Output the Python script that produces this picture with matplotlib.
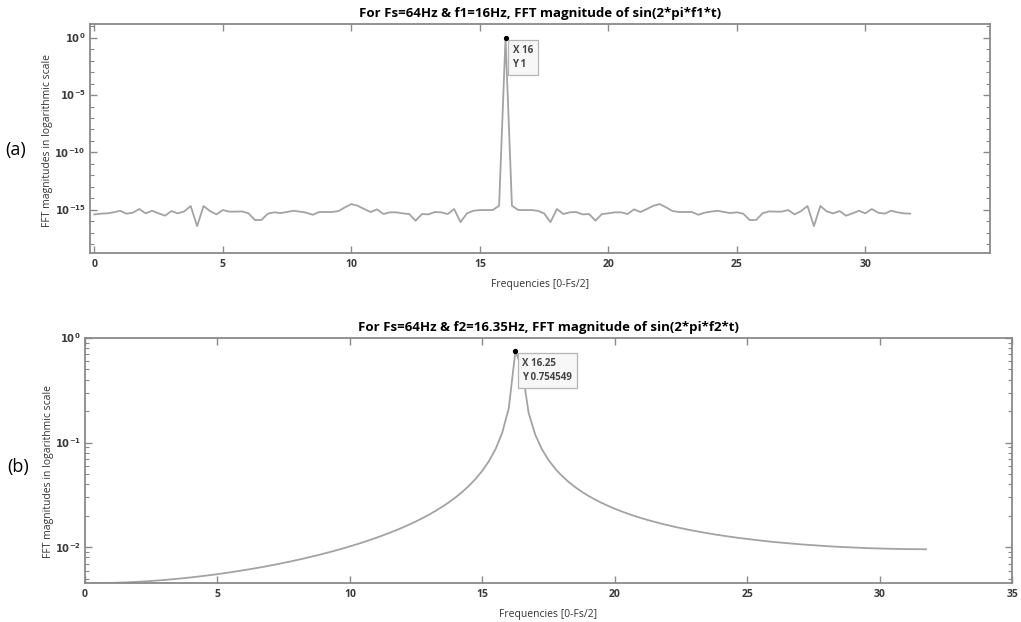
import numpy as np
import matplotlib
matplotlib.use("Agg")
import matplotlib.pyplot as plt
from matplotlib.ticker import FixedLocator, NullFormatter

plt.rcParams['font.family'] = ['Open Sans', 'DejaVu Sans']
plt.rcParams['mathtext.default'] = 'bf'

# ---------------- data ----------------
# frequency bins: Fs=64 Hz, N=256 -> 0.25 Hz spacing, 0 .. 31.75 Hz
freqs = np.arange(0, 32, 0.25)

# (a) FFT magnitude of sin(2*pi*16*t)  (noise floor ~1e-15, peak 1 at 16 Hz)
mag1 = [
    3.9e-16, 4.5e-16, 4.8e-16, 5.9e-16, 8.1e-16, 4.5e-16, 5.5e-16, 1.15e-15, 4.8e-16, 8.1e-16,
    4.8e-16, 3.0e-16, 7.6e-16, 4.8e-16, 7.1e-16, 2.1e-15, 3.7e-17, 2.1e-15, 7.6e-16, 3.9e-16,
    9.3e-16, 6.8e-16, 6.8e-16, 7.1e-16, 4.8e-16, 1.26e-16, 1.26e-16, 4.5e-16, 5.9e-16, 5.1e-16,
    6.3e-16, 8.1e-16, 6.8e-16, 5.5e-16, 3.6e-16, 6.3e-16, 6.3e-16, 6.3e-16, 7.6e-16, 1.6e-15,
    3.1e-15, 2.2e-15, 1.15e-15, 6.3e-16, 1.07e-15, 4.2e-16, 5.9e-16, 5.9e-16, 4.8e-16, 4.2e-16,
    1.1e-16, 4.2e-16, 3.9e-16, 6.3e-16, 5.9e-16, 4.2e-16, 1.15e-15, 8.3e-17, 4.8e-16, 8.1e-16,
    9.3e-16, 9.3e-16, 9.3e-16, 2.2e-15, 1.0, 2.2e-15, 9.3e-16, 9.3e-16, 9.3e-16, 8.1e-16,
    4.8e-16, 8.3e-17, 1.15e-15, 4.2e-16, 5.9e-16, 6.3e-16, 3.9e-16, 4.2e-16, 1.1e-16, 4.2e-16,
    4.8e-16, 5.9e-16, 5.9e-16, 4.2e-16, 1.07e-15, 6.3e-16, 1.15e-15, 2.2e-15, 3.1e-15, 1.6e-15,
    7.6e-16, 6.3e-16, 6.3e-16, 6.3e-16, 3.6e-16, 5.5e-16, 6.8e-16, 8.1e-16, 6.3e-16, 5.1e-16,
    5.9e-16, 4.5e-16, 1.26e-16, 1.26e-16, 4.8e-16, 7.1e-16, 6.8e-16, 6.8e-16, 9.3e-16, 3.9e-16,
    7.6e-16, 2.1e-15, 3.7e-17, 2.1e-15, 7.1e-16, 4.8e-16, 7.6e-16, 3.0e-16, 4.8e-16, 8.1e-16,
    4.8e-16, 1.15e-15, 5.5e-16, 4.5e-16, 8.1e-16, 5.9e-16, 4.8e-16, 4.5e-16,
]

# (b) FFT magnitude of sin(2*pi*16.35*t)  (leakage, peak 0.754549 at 16.25 Hz)
mag2 = [
    0.004533, 0.004535, 0.004542, 0.004554, 0.004570, 0.004592, 0.004617, 0.004648, 0.004683, 0.004724,
    0.004770, 0.004821, 0.004876, 0.004938, 0.005006, 0.005078, 0.005157, 0.005243, 0.005336, 0.005434,
    0.005539, 0.005654, 0.005775, 0.005906, 0.006044, 0.006192, 0.006350, 0.006519, 0.006700, 0.006892,
    0.007098, 0.007317, 0.007554, 0.007807, 0.008077, 0.008368, 0.008682, 0.009019, 0.009381, 0.009774,
    0.01020, 0.01067, 0.01117, 0.01173, 0.01234, 0.01301, 0.01375, 0.01457, 0.01550, 0.01654,
    0.01771, 0.01906, 0.02060, 0.02240, 0.02453, 0.02705, 0.03013, 0.03394, 0.03879, 0.04518,
    0.05389, 0.06661, 0.08683, 0.1239, 0.2140, 0.754549, 0.5068, 0.1915, 0.1188, 0.08645,
    0.06820, 0.05648, 0.04831, 0.04230, 0.03769, 0.03405, 0.03110, 0.02866, 0.02662, 0.02487,
    0.02338, 0.02207, 0.02093, 0.01992, 0.01902, 0.01822, 0.01750, 0.01685, 0.01626, 0.01572,
    0.01523, 0.01478, 0.01437, 0.01399, 0.01364, 0.01331, 0.01301, 0.01273, 0.01247, 0.01223,
    0.01201, 0.01180, 0.01161, 0.01142, 0.01125, 0.01110, 0.01095, 0.01081, 0.01068, 0.01057,
    0.01045, 0.01035, 0.01026, 0.01017, 0.01009, 0.01002, 0.009948, 0.009886, 0.009831, 0.009782,
    0.009738, 0.009700, 0.009667, 0.009639, 0.009616, 0.009599, 0.009586, 0.009579,
]

peak1_x, peak1_y = 16, 1
peak2_x, peak2_y = 16.25, 0.754549

title1 = "For Fs=64Hz & f1=16Hz, FFT magnitude of sin(2*pi*f1*t)"
title2 = "For Fs=64Hz & f2=16.35Hz, FFT magnitude of sin(2*pi*f2*t)"
xlabel = "Frequencies [0-Fs/2]"
ylabel = "FFT magnitudes in logarithmic scale"
xticks1 = [0, 5, 10, 15, 20, 25, 30]
xticks2 = [0, 5, 10, 15, 20, 25, 30, 35]

# ---------------- style ----------------
LINE = '#a3a3a3'
SPINE = '#8a8a8a'
TICKTXT = '#3a3a3a'

fig = plt.figure(figsize=(10.21, 6.22), dpi=100)
ax1 = fig.add_axes([0.0881, 0.5932, 0.8815, 0.3682])
ax2 = fig.add_axes([0.0833, 0.0627, 0.9079, 0.3939])


def style(ax, ylab_xy):
    for s in ax.spines.values():
        s.set_color(SPINE)
        s.set_linewidth(1.3)
    ax.tick_params(which='both', direction='in', top=True, right=True,
                   color=SPINE, labelcolor=TICKTXT, labelsize=7.5)
    ax.tick_params(which='major', length=5, width=1.0, pad=4)
    ax.tick_params(axis='y', which='major', pad=3, labelsize=7.2)
    ax.tick_params(which='minor', length=3, width=0.8)
    for lab in ax.get_xticklabels() + ax.get_yticklabels():
        lab.set_fontweight('bold')
    ax.set_xlabel(xlabel, fontsize=7.5, color='#333333', labelpad=7)
    ax.set_ylabel(ylabel, fontsize=7.5, color='#333333')
    ax.yaxis.set_label_coords(*ylab_xy)


def datatip(ax, x, y, txt, off):
    ax.plot([x], [y], 'o', color='black', markersize=2.8, zorder=5)
    ax.annotate(txt, xy=(x, y), xytext=off, textcoords='offset pixels',
                ha='left', va='top', fontsize=7, fontweight='bold',
                color='#444444', linespacing=1.4,
                bbox=dict(boxstyle='square,pad=0.5', fc='#f7f7f7', ec='#b5b5b5', lw=0.9),
                zorder=6)


# ---- (a) ----
ax1.plot(freqs, mag1, color=LINE, lw=1.3)
ax1.set_yscale('log')
ax1.set_xlim(-0.17, 34.85)
ax1.set_ylim(10 ** -18.78, 10 ** 1.2)
ax1.set_xticks(xticks1)
ax1.set_xticklabels([str(t) for t in xticks1])
ax1.yaxis.set_major_locator(FixedLocator([1e0, 1e-5, 1e-10, 1e-15]))
ax1.set_yticklabels([r'$10^{0}$', r'$10^{-5}$', r'$10^{-10}$', r'$10^{-15}$'])
ax1.yaxis.set_minor_locator(FixedLocator([10.0 ** i for i in range(-18, 2) if i % 5 != 0]))
ax1.yaxis.set_minor_formatter(NullFormatter())
style(ax1, (-0.041, 0.49))
ax1.set_title(title1, fontsize=9.5, fontweight='bold', pad=5)
datatip(ax1, peak1_x, peak1_y, "X 16\nY 1", (7, -7))

# ---- (b) ----
ax2.plot(freqs, mag2, color=LINE, lw=1.3)
ax2.set_yscale('log')
ax2.set_xlim(0, 35)
ax2.set_ylim(0.00456, 1)
ax2.set_xticks(xticks2)
ax2.set_xticklabels([str(t) for t in xticks2])
ax2.yaxis.set_major_locator(FixedLocator([1e0, 1e-1, 1e-2]))
ax2.set_yticklabels([r'$10^{0}$', r'$10^{-1}$', r'$10^{-2}$'])
ax2.yaxis.set_minor_locator(FixedLocator([m * 10.0 ** e for e in (-3, -2, -1) for m in range(2, 10)]))
ax2.yaxis.set_minor_formatter(NullFormatter())
style(ax2, (-0.033, 0.455))
ax2.set_title(title2, fontsize=9.5, fontweight='bold', pad=5)
datatip(ax2, peak2_x, peak2_y, "X 16.25\nY 0.754549", (7, -7))

fig.text(5 / 1021, 1 - 150 / 622, "(a)", fontsize=13, va='center', ha='left')
fig.text(7 / 1021, 1 - 467 / 622, "(b)", fontsize=13, va='center', ha='left')

fig.savefig("out.png", dpi=100)
